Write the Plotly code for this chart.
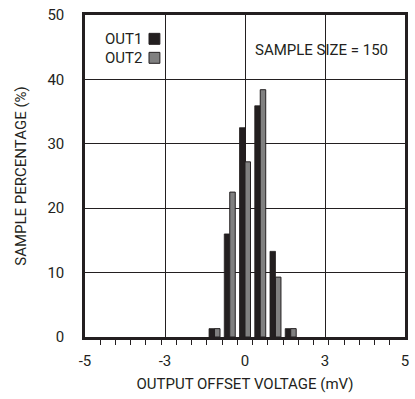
import plotly.graph_objects as go

# Histogram bins (offset from centre bin; 21 bins span the full axis)
bins = [-2, -1, 0, 1, 2, 3]
out1_pct = [1.3, 16.0, 32.5, 35.9, 13.3, 1.3]
out2_pct = [1.3, 22.5, 27.2, 38.4, 9.3, 1.3]

x_tick_labels = ["-5", "-3", "0", "3", "5"]
y_ticks = [0, 10, 20, 30, 40, 50]

INK = "#231f20"
GRAY = "#808080"
FONT = "Liberation Sans Narrow, Arial Narrow, Roboto, sans-serif"

half = 10.5
x_tickvals = [-half, -half / 2, 0, half / 2, half]
minor_vals = [k + 0.5 for k in range(-10, 10)]

fig = go.Figure()
fig.add_trace(go.Bar(x=bins, y=out1_pct, name="OUT1",
                     marker=dict(color=INK, line=dict(color=INK, width=0.8))))
fig.add_trace(go.Bar(x=bins, y=out2_pct, name="OUT2",
                     marker=dict(color=GRAY, line=dict(color=INK, width=1))))

fig.update_layout(
    width=415, height=399,
    margin=dict(l=85, r=6, t=12, b=62),
    paper_bgcolor="white", plot_bgcolor="white",
    barmode="group", bargap=0.28, bargroupgap=0,
    showlegend=False,
    font=dict(family=FONT, size=15, color=INK),
)

fig.update_xaxes(
    range=[-half, half],
    tickmode="array", tickvals=x_tickvals, ticktext=x_tick_labels,
    ticks="", showgrid=True, gridcolor=INK, gridwidth=1,
    showline=True, linecolor=INK, linewidth=2.5, mirror=True,
    zeroline=False, ticklabelstandoff=8,
    minor=dict(tickmode="array", tickvals=minor_vals, ticks="outside",
               ticklen=5, tickwidth=1, tickcolor=INK, showgrid=False),
    title=dict(text="OUTPUT OFFSET VOLTAGE (mV)", standoff=10,
               font=dict(family=FONT, size=15, color=INK)),
)

fig.update_yaxes(
    range=[0, 50], tickmode="array", tickvals=y_ticks,
    ticks="", showgrid=True, gridcolor=INK, gridwidth=1,
    showline=True, linecolor=INK, linewidth=2.5, mirror=True,
    zeroline=False, ticklabelstandoff=15,
    title=dict(text="SAMPLE PERCENTAGE (%)", standoff=18,
               font=dict(family=FONT, size=15, color=INK)),
)

# Legend: label on the left, swatch on the right
legend_rows = [("OUT1", INK, 0.926), ("OUT2", GRAY, 0.867)]
for label, color, yy in legend_rows:
    fig.add_annotation(xref="paper", yref="paper", x=0.056, y=yy,
                       text=label, showarrow=False, xanchor="left",
                       yanchor="middle", font=dict(family=FONT, size=15, color=INK))
    fig.add_shape(type="rect", xref="paper", yref="paper",
                  x0=0.2, x1=0.234, y0=yy - 0.017, y1=yy + 0.017,
                  fillcolor=color, line=dict(color=INK, width=1))

fig.add_annotation(xref="paper", yref="paper", x=0.952, y=0.892,
                   text="SAMPLE SIZE = 150", showarrow=False,
                   xanchor="right", yanchor="middle",
                   font=dict(family=FONT, size=15, color=INK))

fig.write_html("out.html")
